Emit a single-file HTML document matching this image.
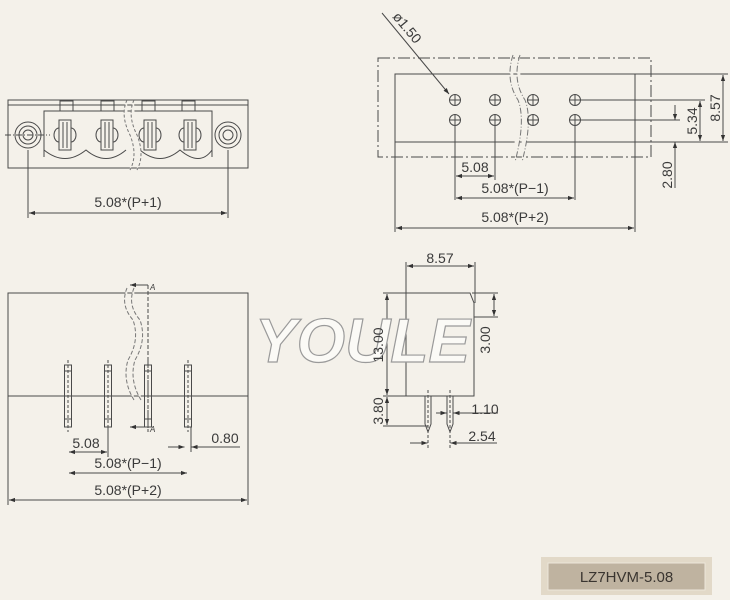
<!DOCTYPE html>
<html><head><meta charset="utf-8"><style>
html,body{margin:0;padding:0;background:#f4f1ea;}
svg{display:block}
text{font-family:"Liberation Sans",sans-serif;fill:#3a3a3a;font-size:14px}
</style></head><body>
<svg width="730" height="600" viewBox="0 0 730 600" xmlns="http://www.w3.org/2000/svg">
<defs>
<marker id="a" viewBox="0 0 10 10" refX="10" refY="5" markerWidth="9" markerHeight="6" orient="auto-start-reverse"><path d="M0,1.5 L10,5 L0,8.5 z" fill="#333"/></marker>
</defs>
<rect width="730" height="600" fill="#f4f1ea"/>
<g stroke="#4a4a4a" stroke-width="1" fill="none">
<!-- TOP LEFT -->
<rect x="8" y="100" width="240" height="68"/>
<line x1="8" y1="105" x2="248" y2="105"/>
<path d="M44,157 V111 H212 V157"/>
<rect x="60" y="101" width="13" height="10"/><rect x="101" y="101" width="13" height="10"/>
<rect x="142" y="101" width="13" height="10"/><rect x="182" y="101" width="13" height="10"/>
<path d="M44,150 Q65,167 86,150 Q106,167 126,150 M140,150 Q160,167 180,150 Q200,167 212,150"/>
<circle cx="28" cy="135" r="13"/><circle cx="28" cy="135" r="9"/><circle cx="28" cy="135" r="5"/>
<circle cx="228" cy="135" r="13"/><circle cx="228" cy="135" r="9"/><circle cx="228" cy="135" r="5"/>
<line x1="5" y1="135" x2="50" y2="135" stroke-dasharray="6,2,1,2"/>
<g id="t">
<rect x="59" y="120" width="12" height="30"/><path d="M59,128 a5,7 0 0 0 0,14 M71,128 a5,7 0 0 1 0,14"/>
<line x1="63" y1="122" x2="63" y2="148"/><line x1="67" y1="122" x2="67" y2="148"/>
</g>
<use href="#t" x="42"/><use href="#t" x="85"/><use href="#t" x="125"/>
<path d="M127,100 Q120,115 130,135 Q138,155 130,170 M134,100 Q127,115 137,135 Q145,155 137,170" stroke="#777" stroke-dasharray="3,2" fill="#f4f1ea"/>
<line x1="28" y1="150" x2="28" y2="218"/><line x1="228" y1="150" x2="228" y2="218"/>
<line x1="29" y1="213" x2="227" y2="213" marker-start="url(#a)" marker-end="url(#a)"/>

<!-- TOP RIGHT -->
<rect x="378" y="58" width="273" height="99" stroke-dasharray="12,3,2,3"/>
<rect x="395" y="74" width="240" height="68"/>
<path d="M513,55 Q505,80 518,100 Q526,120 515,162 M520,55 Q512,80 525,100 Q533,120 522,162" stroke="#777" stroke-dasharray="6,2,1,2" fill="#f4f1ea"/>
<g id="h"><circle cx="455" cy="100" r="5.5"/><path d="M449.5,100h11M455,94.5v11"/></g>
<use href="#h" y="20"/><use href="#h" x="40"/><use href="#h" x="40" y="20"/>
<use href="#h" x="78"/><use href="#h" x="78" y="20"/><use href="#h" x="120"/><use href="#h" x="120" y="20"/>
<line x1="382" y1="13" x2="449" y2="94" marker-end="url(#a)"/>
<line x1="581" y1="100" x2="705" y2="100"/><line x1="581" y1="120" x2="680" y2="120"/>
<line x1="635" y1="74" x2="728" y2="74"/><line x1="598" y1="142" x2="728" y2="142"/>
<line x1="723" y1="75" x2="723" y2="141" marker-start="url(#a)" marker-end="url(#a)"/>
<line x1="700" y1="101" x2="700" y2="141" marker-start="url(#a)" marker-end="url(#a)"/>
<line x1="675" y1="105" x2="675" y2="120" marker-end="url(#a)"/>
<line x1="675" y1="188" x2="675" y2="142" marker-end="url(#a)"/>
<line x1="455" y1="126" x2="455" y2="200"/><line x1="495" y1="126" x2="495" y2="180"/><line x1="575" y1="126" x2="575" y2="200"/>
<line x1="395" y1="142" x2="395" y2="232"/><line x1="635" y1="142" x2="635" y2="232"/>
<line x1="456" y1="176" x2="494" y2="176" marker-start="url(#a)" marker-end="url(#a)"/>
<line x1="456" y1="198" x2="574" y2="198" marker-start="url(#a)" marker-end="url(#a)"/>
<line x1="396" y1="228" x2="634" y2="228" marker-start="url(#a)" marker-end="url(#a)"/>

<!-- BOTTOM LEFT -->
<rect x="8" y="293" width="240" height="103"/>
<line x1="8" y1="396" x2="8" y2="505"/><line x1="248" y1="396" x2="248" y2="505"/>
<path d="M127,288 Q120,305 133,320 Q140,340 128,360 Q122,380 134,400 M134,288 Q127,305 140,320 Q147,340 135,360 Q129,380 141,400" stroke="#777" stroke-dasharray="4,2" fill="#f4f1ea"/>
<line x1="148" y1="285" x2="148" y2="432" stroke-dasharray="4,2"/>
<line x1="130" y1="285" x2="148" y2="285" marker-start="url(#a)"/>
<line x1="130" y1="427" x2="148" y2="427" marker-start="url(#a)"/>
<g id="p"><rect x="64.5" y="365" width="7" height="62"/><line x1="68" y1="360" x2="68" y2="432" stroke-dasharray="3,2"/><line x1="64.5" y1="371" x2="71.5" y2="371"/><line x1="64.5" y1="419" x2="71.5" y2="419"/></g>
<use href="#p" x="40"/><use href="#p" x="80"/><use href="#p" x="120"/>
<line x1="108" y1="427" x2="108" y2="457"/><line x1="191" y1="427" x2="191" y2="452"/>
<line x1="69" y1="452" x2="107" y2="452" marker-start="url(#a)" marker-end="url(#a)"/>
<line x1="69" y1="473" x2="187" y2="473" marker-start="url(#a)" marker-end="url(#a)"/>
<line x1="9" y1="500" x2="247" y2="500" marker-start="url(#a)" marker-end="url(#a)"/>
<line x1="168" y1="447" x2="184.5" y2="447" marker-end="url(#a)"/>
<line x1="240" y1="447" x2="191.5" y2="447" marker-end="url(#a)"/>

<!-- BOTTOM RIGHT -->
<path d="M406,293 H470 L474,303 V396 H406 Z"/>
<line x1="406" y1="262" x2="406" y2="293"/><line x1="475" y1="262" x2="475" y2="303"/>
<line x1="407" y1="266" x2="474" y2="266" marker-start="url(#a)" marker-end="url(#a)"/>
<line x1="383" y1="293" x2="406" y2="293"/><line x1="383" y1="396" x2="406" y2="396"/><line x1="383" y1="426" x2="428" y2="426"/>
<line x1="387" y1="294" x2="387" y2="395" marker-start="url(#a)" marker-end="url(#a)"/>
<line x1="387" y1="397" x2="387" y2="425" marker-start="url(#a)" marker-end="url(#a)"/>
<line x1="472" y1="293" x2="498" y2="293"/><line x1="474" y1="317" x2="498" y2="317"/>
<line x1="494" y1="294" x2="494" y2="316" marker-start="url(#a)" marker-end="url(#a)"/>
<path d="M425,396 V424 L428,432 L431,424 V396 M447,396 V424 L450,432 L453,424 V396"/>
<line x1="428" y1="390" x2="428" y2="448" stroke-dasharray="3,2"/><line x1="450" y1="390" x2="450" y2="448" stroke-dasharray="3,2"/>
<line x1="436" y1="413" x2="446.5" y2="413" marker-end="url(#a)"/>
<line x1="498" y1="413" x2="453.5" y2="413" marker-end="url(#a)"/>
<line x1="410" y1="443" x2="427.5" y2="443" marker-end="url(#a)"/>
<line x1="497" y1="443" x2="450.5" y2="443" marker-end="url(#a)"/>
</g>

<text x="255" y="362" font-size="62" font-style="italic" font-weight="bold" textLength="215" lengthAdjust="spacingAndGlyphs" style="fill:#fbfaf6;stroke:#9a9a9a;stroke-width:1.2;font-size:62px">YOULE</text>

<text x="150" y="290" style="font-size:8px;font-style:italic">A</text>
<text x="150" y="432" style="font-size:8px;font-style:italic">A</text>
<text x="128" y="207" text-anchor="middle">5.08*(P+1)</text>
<text x="392" y="17" transform="rotate(50 392 17)" font-size="13">ø1.50</text>
<text x="475" y="172" text-anchor="middle">5.08</text>
<text x="515" y="193" text-anchor="middle">5.08*(P−1)</text>
<text x="515" y="222" text-anchor="middle">5.08*(P+2)</text>
<text transform="translate(720,108) rotate(-90)" text-anchor="middle">8.57</text>
<text transform="translate(697,121) rotate(-90)" text-anchor="middle">5.34</text>
<text transform="translate(672,175) rotate(-90)" text-anchor="middle">2.80</text>
<text x="86" y="448" text-anchor="middle">5.08</text>
<text x="128" y="468" text-anchor="middle">5.08*(P−1)</text>
<text x="128" y="495" text-anchor="middle">5.08*(P+2)</text>
<text x="225" y="443" text-anchor="middle">0.80</text>
<text x="440" y="263" text-anchor="middle">8.57</text>
<text transform="translate(383,345) rotate(-90)" text-anchor="middle">13.00</text>
<text transform="translate(383,411) rotate(-90)" text-anchor="middle">3.80</text>
<text transform="translate(490,340) rotate(-90)" text-anchor="middle">3.00</text>
<text x="485" y="414" text-anchor="middle">1.10</text>
<text x="482" y="441" text-anchor="middle">2.54</text>

<rect x="541" y="557" width="171" height="38" fill="#e2d9c8"/>
<rect x="548" y="563" width="157" height="27" fill="#bfb3a0" stroke="#ece6da" stroke-width="1"/>
<text x="626.5" y="582" text-anchor="middle" style="font-size:15px;fill:#3a3530">LZ7HVM-5.08</text>
</svg>
</body></html>
